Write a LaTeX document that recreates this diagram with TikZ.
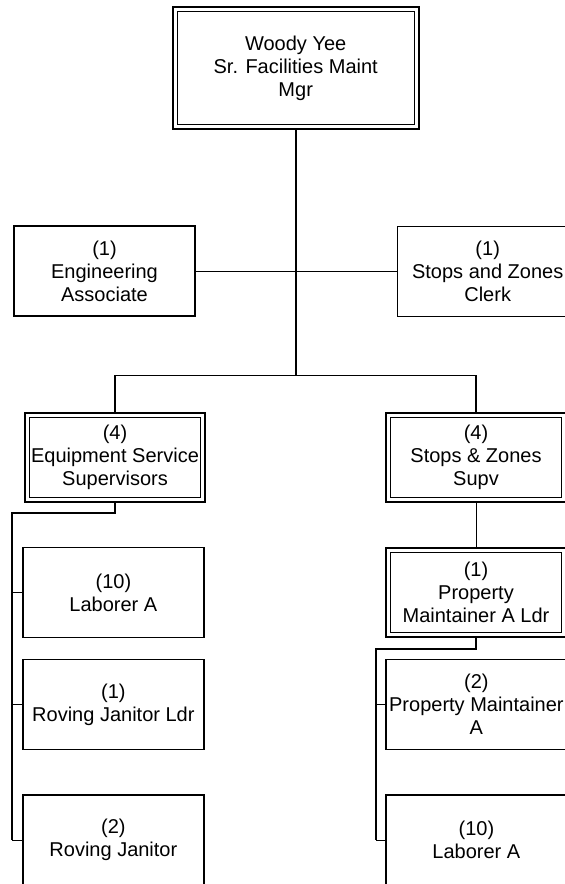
\documentclass[tikz,border=0pt]{standalone}
\usepackage{fontspec}
\setmainfont{Liberation Sans}
\usetikzlibrary{positioning}

\tikzset{
  box/.style={draw, line width=1.2pt, align=center, inner sep=0pt,
    minimum width=181pt, minimum height=90pt},
  boldbox/.style={box, line width=2pt},
  thinbox/.style={box, line width=1pt},
  dbox/.style={box, line width=2pt, minimum width=180pt, minimum height=89pt,
    path picture={\draw[line width=1pt]
      ([shift={(4.5pt,-4.5pt)}]path picture bounding box.north west) rectangle
      ([shift={(-4.5pt,4.5pt)}]path picture bounding box.south east);}},
  link/.style={line width=1pt},
  branch/.style={line width=1.5pt},
  trunk/.style={line width=2pt},
}

\begin{document}
\begin{tikzpicture}[x=1pt, y=-1pt, font=\fontsize{20}{23}\selectfont]
  \useasboundingbox (0,0) rectangle (565,884);
  \clip (0,0) rectangle (565,884);

  % Manager
  \node[dbox, minimum width=246pt, minimum height=122pt] (boss) at (295.7,68)
    {Woody Yee\\Sr. Facilities Maint\\Mgr};

  % Staff beside the trunk
  \node[boldbox] (engAssoc) at (104.5,271) {(1)\\Engineering\\Associate};
  \node[thinbox] (clerk) at (487.7,271) {(1)\\Stops and Zones\\Clerk};

  % Supervisors
  \node[dbox] (equipSup) at (115,457) {(4)\\Equipment Service\\Supervisors};
  \node[dbox] (stopsSup) at (476,457) {(4)\\Stops \& Zones\\Supv};
  \node[dbox] (pmaLdr) at (476,592.5) {(1)\\Property\\Maintainer A Ldr};

  % Crews
  \node[box] (laborL) at (113.4,592.5) {(10)\\Laborer A};
  \node[box] (rovLdr) at (113.4,704.5) {(1)\\Roving Janitor Ldr};
  \node[box] (rovJan) at (113.4,840) {(2)\\Roving Janitor};
  \node[box] (pmaR) at (476.4,704.3) {(2)\\Property Maintainer\\A};
  \node[box] (laborR) at (476.4,840) {(10)\\Laborer A};

  % Trunk and branches
  \coordinate (fork) at (295.7,375.7);
  \draw[trunk] (boss.south) -- (fork);
  \draw[link] (engAssoc) -- (clerk);
  \draw[branch] (equipSup.north) |- (fork) -| (stopsSup.north);
  \draw[link] (stopsSup) -- (pmaLdr);

  % Left crew line
  \coordinate (leftBend) at (11.7,512.7);
  \draw[trunk] (equipSup.south) |- (leftBend) -- (leftBend |- rovJan.west);
  \foreach \crew in {laborL, rovLdr, rovJan}
    \draw[link] (\crew.west) -- (\crew.west -| leftBend);

  % Right crew line
  \coordinate (rightBend) at (375.7,648.7);
  \draw[trunk] (pmaLdr.south) |- (rightBend) -- (rightBend |- laborR.west);
  \foreach \crew in {pmaR, laborR}
    \draw[link] (\crew.west) -- (\crew.west -| rightBend);
\end{tikzpicture}
\end{document}
